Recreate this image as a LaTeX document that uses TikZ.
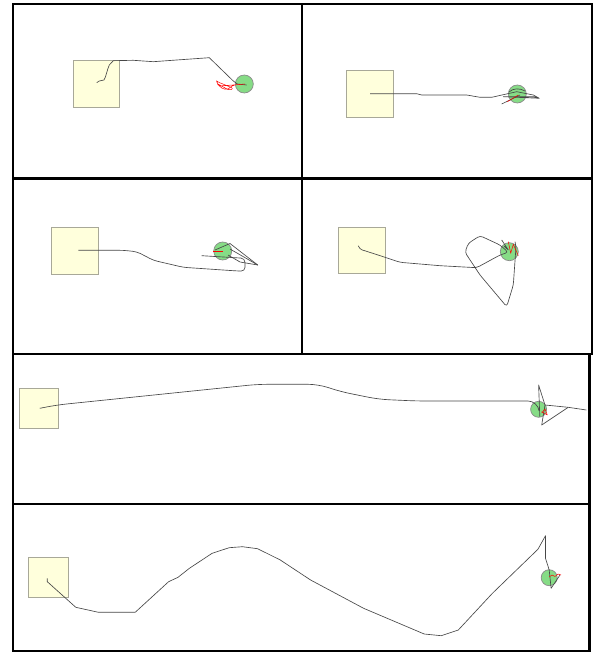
\documentclass[tikz,border=0pt]{standalone}
\definecolor{boxfill}{HTML}{FFFFDC}
\definecolor{boxline}{HTML}{A8A898}
\definecolor{goalfill}{HTML}{86DC86}
\definecolor{goalline}{HTML}{8A8A8A}
\tikzset{
  panel/.style={draw=black,line width=2.3pt},
  startbox/.style={draw=boxline,fill=boxfill,line width=1pt,inner sep=0pt,rectangle},
  goal/.style={draw=goalline,fill=goalfill,line width=0.7pt,circle,inner sep=0pt},
  trail/.style={draw=black!72,line width=0.65pt,line join=round},
  redtrail/.style={draw=red,line width=0.5pt,line join=round}
}
\begin{document}
\begin{tikzpicture}[x=1pt,y=-1pt]
\useasboundingbox (0,0) rectangle (594,655);
\fill[white] (0,0) rectangle (594,655);
% panels
\draw[panel] (13.3,4.3) rectangle (302.3,178.5);
\draw[panel] (302.3,4.3) rectangle (592.3,178.5);
\draw[panel] (13.3,178.5) rectangle (302.3,354);
\draw[panel] (302.3,178.5) rectangle (592.3,354);
\draw[panel] (13.3,354) rectangle (589.5,504);
\draw[panel] (13.3,504) rectangle (589.5,651);

% ---------- panel 1
\node[startbox,minimum width=46pt,minimum height=46.6pt] (s1) at (96.3,84) {};
\node[goal,minimum size=18pt] (g1) at (244.3,84) {};
\draw[trail] (96.7,82.7) -- (99.3,81) -- (104,80) .. controls (106,77) and (107,70) .. (109.3,65)
  -- (113.3,60.7) -- (133.3,60.3) -- (153.3,61.7) -- (176.7,60) -- (209.3,57.7) -- (233.3,81) -- (237.3,84) -- (246.7,85);
\draw[redtrail,rounded corners=2pt] (245,84) -- (233.3,85) -- (226.7,90) -- (220,87.3) -- (216,80.7) -- (218,82) -- (233.3,88.3) -- (230,90.7) -- (216.7,83.3) -- (219,86) -- (240,84.5);

% ---------- panel 2
\node[startbox,minimum width=46.6pt,minimum height=46.7pt] (s2) at (370,94.3) {};
\node[goal,minimum size=18pt] (g2) at (517.3,94) {};
\draw[trail] (370,93.7) -- (416.7,93.7) -- (421.7,95) -- (466.7,95) -- (480,97.3) -- (491.7,97.3)
  -- (516.7,91.7) -- (533.3,95) -- (539.3,98.3) -- (503.3,96.7) -- (533.3,96.7) -- (539.3,98.3);
\draw[trail] (509,92) .. controls (513,88) and (520,88) .. (525,91);
\draw[trail] (501.7,104) -- (520,95);
\draw[redtrail] (507.3,101.7) -- (518.3,95);

% ---------- panel 3
\node[startbox,minimum width=47pt,minimum height=46.6pt] (s3) at (75.2,251) {};
\node[goal,minimum size=18pt] (g3) at (222.7,251) {};
\draw[trail,rounded corners=4pt] (78.3,250.3) -- (123.3,250.3) -- (136.7,251.7) -- (143.3,255) -- (153.3,260.3) -- (183.3,267.3)
  -- (233.3,270.7) -- (245,271.3) -- (245,258.3) -- (201.7,255.7);
\draw[trail] (215,250) -- (230,243.5) -- (257.7,265) -- (240,262) -- (228,255);
\draw[trail] (230,249) -- (257.7,265);
\draw[redtrail] (213.3,251) -- (222.7,251);

% ---------- panel 4
\node[startbox,minimum width=46.7pt,minimum height=46.3pt] (s4) at (361.7,250.8) {};
\node[goal,minimum size=18pt] (g4) at (509.3,251.7) {};
\draw[trail,rounded corners=3pt] (358.3,245.7) -- (359.3,249) -- (383.3,256.7) -- (400,262.3) -- (440,265.7) -- (476.7,267.7)
  -- (500,255) -- (508.3,252.3) -- (500,245) -- (480,235.7) -- (468.3,243.3) -- (465,252.3)
  -- (480,275) -- (506.7,306.7) -- (513.3,285) -- (516,246.7) -- (515,241.7);
\draw[trail] (501.7,240) -- (508.3,250) -- (504,246);
\draw[redtrail] (508.3,241.7) -- (510.7,253.3) -- (513.3,244.3) -- (518.3,255.7);

% ---------- panel 5
\node[startbox,minimum width=39pt,minimum height=39.7pt] (s5) at (38.5,408.8) {};
\node[goal,minimum size=16pt] (g5) at (538.6,409.3) {};
\draw[trail,rounded corners=10pt] (39.8,408.3) -- (56.8,405) -- (257.6,384.3) -- (318.2,384.3) -- (340.9,391.7) -- (378.8,399.3)
  -- (416.7,401) -- (537.9,401) -- (539,410);
\draw[trail] (539.8,416.7) -- (538.6,385) -- (545,405) -- (568.2,407.3) -- (586.4,410);
\draw[trail] (545,405) -- (541.7,425) -- (568.2,407.3);
\draw[redtrail] (541.7,411.7) -- (547.3,415) -- (545,409) -- (541.7,413);

% ---------- panel 6
\node[startbox,minimum width=39.8pt,minimum height=39.6pt] (s6) at (48.3,577.5) {};
\node[goal,minimum size=16pt] (g6) at (549.2,577.7) {};
\draw[trail] (47.3,578.3) -- (47.3,581.7) -- (75.8,607.3) -- (98.5,612.3) -- (135.2,612.3) -- (168.6,581.7)
  -- (178,577.3) -- (189.4,568.3) -- (212.1,553.3) -- (229.2,547.7) -- (242.4,546.7) -- (257.6,548.7)
  -- (280.3,560) -- (310.6,580) -- (363.6,608.3) -- (424.2,634) -- (441.3,635.7) -- (458.3,630)
  -- (492.4,593.3) -- (537.9,549.3) -- (545.5,535.7) -- (545.5,558.3) -- (549.2,570) -- (551.1,588.3) -- (560,575);
\draw[redtrail] (549.2,577) -- (552,575) -- (555,576.5) -- (558,574) -- (561,575);
\end{tikzpicture}
\end{document}
